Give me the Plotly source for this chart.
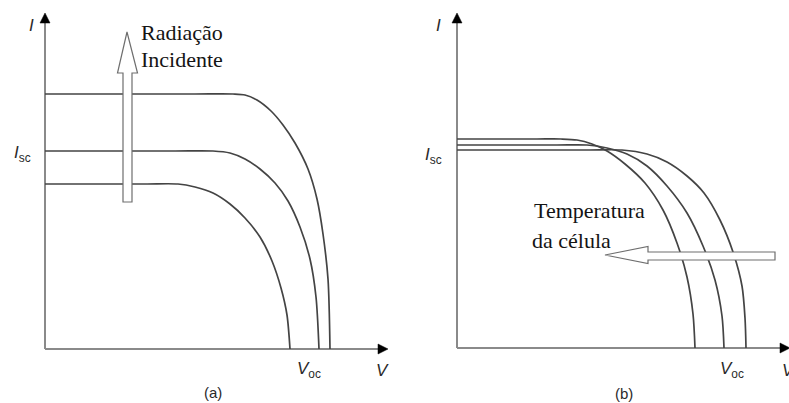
import plotly.graph_objects as go

# ---- Panel (a): I-V curves for three levels of incident radiation ----
# V and I in drawing units measured from the origin of each panel
rad_high_v = [0, 150, 188, 200, 212, 226, 238, 250, 263, 272, 278, 283, 285]
rad_high_i = [255, 255, 255, 254, 249, 238, 224, 206, 180, 150, 115, 70, 0]
rad_mid_v = [0, 130, 168, 185, 200, 215, 230, 243, 255, 265, 271, 274]
rad_mid_i = [198, 198, 198, 196, 190, 180, 166, 148, 122, 90, 52, 0]
rad_low_v = [0, 100, 133, 150, 168, 185, 200, 215, 227, 236, 242, 245]
rad_low_i = [165, 165, 165, 162, 156, 145, 131, 112, 88, 61, 34, 0]

# ---- Panel (b): I-V curves for three cell temperatures ----
temp_high_v = [0, 80, 104, 120, 135, 150, 168, 188, 206, 220, 230, 236, 238]
temp_high_i = [209, 209, 209, 208, 204, 197, 184, 165, 138, 105, 71, 34, 0]
temp_mid_v = [0, 100, 130, 150, 170, 190, 210, 230, 246, 258, 265, 267]
temp_mid_i = [203, 203, 203, 200, 194, 182, 162, 135, 102, 68, 32, 0]
temp_low_v = [0, 130, 165, 190, 210, 230, 247, 263, 276, 285, 288, 289]
temp_low_i = [198, 198, 198, 194, 186, 172, 155, 128, 96, 62, 30, 0]

W, H = 789, 403
CURVE = "#444444"
AXIS = "#8a8a8a"
SERIF = "Liberation Serif"
SANS = "Liberation Sans"

fig = go.Figure()

curve_line = dict(color=CURVE, width=1.7, shape="spline", smoothing=0.8)
for v, i in [(rad_high_v, rad_high_i), (rad_mid_v, rad_mid_i), (rad_low_v, rad_low_i)]:
    fig.add_trace(go.Scatter(x=v, y=i, mode="lines", xaxis="x", yaxis="y",
                             line=curve_line, hoverinfo="skip", showlegend=False))
for v, i in [(temp_high_v, temp_high_i), (temp_mid_v, temp_mid_i), (temp_low_v, temp_low_i)]:
    fig.add_trace(go.Scatter(x=v, y=i, mode="lines", xaxis="x2", yaxis="y2",
                             line=curve_line, hoverinfo="skip", showlegend=False))

# axis geometry (1 unit = 1 px); each panel's range includes room for labels
ax_a = dict(xmax=343, ymax=336)
ax_b = dict(xmax=333, ymax=335)

shapes = []


def axes_shapes(xr, yr, xmax, ymax):
    out = []
    out.append(dict(type="line", xref=xr, yref=yr, x0=0, y0=0, x1=xmax - 9, y1=0,
                    line=dict(color=AXIS, width=2), layer="below"))
    out.append(dict(type="line", xref=xr, yref=yr, x0=0, y0=0, x1=0, y1=ymax - 9,
                    line=dict(color=AXIS, width=2), layer="below"))
    out.append(dict(type="path", xref=xr, yref=yr,
                    path=f"M {xmax},0 L {xmax-10},5 L {xmax-10},-5 Z",
                    fillcolor="black", line=dict(color="black", width=0.5)))
    out.append(dict(type="path", xref=xr, yref=yr,
                    path=f"M 0,{ymax} L -5,{ymax-10} L 5,{ymax-10} Z",
                    fillcolor="black", line=dict(color="black", width=0.5)))
    return out


shapes += axes_shapes("x", "y", **ax_a)
shapes += axes_shapes("x2", "y2", **ax_b)

# hollow arrow: radiation increasing (pointing up)
shapes.append(dict(type="path", xref="x", yref="y", layer="above",
                   path="M 82,317 L 92.5,276 L 87,276 L 87,147 L 78,147 L 78,276 L 72.5,276 Z",
                   fillcolor="white", line=dict(color="#6e6e6e", width=1.2)))
# hollow arrow: cell temperature increasing (pointing left)
shapes.append(dict(type="path", xref="x2", yref="y2", layer="above",
                   path="M 148,93 L 191,101.5 L 191,96 L 318,96 L 318,88 L 191,88 L 191,84.5 Z",
                   fillcolor="white", line=dict(color="#6e6e6e", width=1.2)))

ann = []


def txt(x, y, text, xr, yr, size, family=SANS, color="#2a2a2a", xanchor="center", yanchor="middle"):
    ann.append(dict(x=x, y=y, xref=xr, yref=yr, text=text, showarrow=False,
                    xanchor=xanchor, yanchor=yanchor,
                    font=dict(family=family, size=size, color=color)))


# panel (a) labels
txt(-14, 324, "<i>I</i>", "x", "y", 17)
txt(-12, 195, "<i>I</i><sub>sc</sub>", "x", "y", 17, xanchor="right")
txt(264, -21, "<i>V</i><sub>oc</sub>", "x", "y", 17)
txt(337, -21, "<i>V</i>", "x", "y", 17)
txt(168, -43, "(a)", "x", "y", 15)
txt(94, 317, "Radiação", "x", "y", 22, family=SERIF, color="#141414", xanchor="left")
txt(94, 290, "Incidente", "x", "y", 22, family=SERIF, color="#141414", xanchor="left")

# panel (b) labels
txt(-19, 323, "<i>I</i>", "x2", "y2", 17)
txt(-13, 192, "<i>I</i><sub>sc</sub>", "x2", "y2", 17, xanchor="right")
txt(275, -22, "<i>V</i><sub>oc</sub>", "x2", "y2", 17)
txt(323, -22, "<i>V</i>", "x2", "y2", 17, xanchor="left")
txt(167, -45, "(b)", "x2", "y2", 15)
txt(75, 138, "Temperatura", "x2", "y2", 22, family=SERIF, color="#141414", xanchor="left")
txt(73, 108, "da célula", "x2", "y2", 22, family=SERIF, color="#141414", xanchor="left")

hidden = dict(visible=False, fixedrange=True)
split = 400
fig.update_layout(
    width=W, height=H,
    margin=dict(l=0, r=0, t=0, b=0),
    paper_bgcolor="white", plot_bgcolor="white",
    xaxis=dict(domain=[0, split / W], range=[-45, split - 45], **hidden),
    yaxis=dict(domain=[0, 1], range=[-54, H - 54], **hidden),
    xaxis2=dict(domain=[split / W, 1.0], range=[split - 457, W - 457], **hidden),
    yaxis2=dict(domain=[0, 1], range=[-55, H - 55], **hidden),
    shapes=shapes,
    annotations=ann,
)

fig.write_html("out.html", config=dict(displayModeBar=False))
